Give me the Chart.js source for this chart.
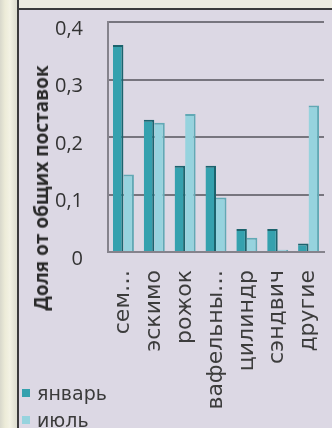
<!DOCTYPE html>
<html lang="ru">
<head>
  <meta charset="UTF-8">
  <title>Доля от общих поставок</title>
  <script src="https://cdn.jsdelivr.net/npm/chart.js"></script>
  <style>
    html, body { margin: 0; padding: 0; }
    body {
      width: 332px;
      height: 428px;
      overflow: hidden;
      position: relative;
      background: #dcd8e4;
      font-family: 'DejaVu Sans', sans-serif;
    }
    .top-strip { position: absolute; left: 0; top: 0; width: 332px; height: 8px; background: #ecebe1; }
    .top-line { position: absolute; left: 0; top: 8px; width: 332px; height: 2px; background: #3a3a3c; }
    .left-strip { position: absolute; left: 0; top: 0; width: 17px; height: 428px;
      background: linear-gradient(to right, #d8d8cc 0, #ecebd8 5px, #f3f2e4 10px, #dfdfd2 16px); }
    .left-line { position: absolute; left: 17px; top: 0; width: 2px; height: 428px; background: #3a3a3c; }
    #wrap { position: absolute; left: 19px; top: 10px; width: 313px; height: 418px; }
    #yTitle {
      position: absolute; left: 41px; top: 188px;
      transform: translate(-50%, -50%) rotate(-90deg);
      white-space: nowrap;
      font: bold 19px 'Open Sans', sans-serif;
      color: #2a2a2a;
    }
    #legend { position: absolute; left: 22px; top: 379px; }
    .item { display: flex; align-items: center; height: 27px; font-size: 19px; color: #3a3a3a; }
    .box { width: 8px; height: 8px; margin-right: 7px; }
  </style>
</head>
<body>
  <div class="top-strip"></div>
  <div class="top-line"></div>
  <div class="left-strip"></div>
  <div class="left-line"></div>
  <div id="wrap"><canvas id="chart"></canvas></div>
  <div id="yTitle">Доля от общих поставок</div>
  <div id="legend"></div>

  <script>
    const categories = ['сем…', 'эскимо', 'рожок', 'вафельны…', 'цилиндр', 'сэндвич', 'другие'];
    const seriesNames = ['январь', 'июль'];
    const january = [0.36, 0.23, 0.15, 0.15, 0.04, 0.04, 0.015];
    const july = [0.135, 0.225, 0.24, 0.095, 0.025, 0.004, 0.255];
    const yTicks = [0, 0.1, 0.2, 0.3, 0.4];
    const fills = ['#35a1ae', '#96d3de'];
    const edges = ['#1c636d', '#62a9b5'];

    // legend
    const legend = document.getElementById('legend');
    seriesNames.forEach((name, i) => {
      legend.innerHTML += '<div class="item"><span class="box" style="background:' + fills[i] + '"></span>' + name + '</div>';
    });

    // keep the plot box where the photo has it
    function noPad(scale) {
      scale.paddingTop = 0;
      scale.paddingBottom = 0;
      scale.paddingLeft = 0;
      scale.paddingRight = 0;
    }

    const ctx = document.getElementById('chart').getContext('2d');
    new Chart(ctx, {
      type: 'bar',
      data: {
        labels: categories,
        datasets: [january, july].map((vals, i) => ({
          label: seriesNames[i],
          data: vals,
          backgroundColor: fills[i],
          borderColor: edges[i],
          borderWidth: { top: 2, right: 2, left: 0, bottom: 0 },
          borderSkipped: false,
          categoryPercentage: 0.68,
          barPercentage: 1
        }))
      },
      options: {
        responsive: true,
        maintainAspectRatio: false,
        animation: false,
        layout: { padding: { top: 12, right: 8, left: 0, bottom: 0 } },
        plugins: { legend: { display: false }, tooltip: { enabled: false } },
        scales: {
          x: {
            afterFit(scale) { scale.height = 176; noPad(scale); },
            grid: { display: false },
            border: { color: '#85838c', width: 2 },
            ticks: {
              autoSkip: false,
              minRotation: 90,
              maxRotation: 90,
              padding: 10,
              color: '#3c3c3c',
              font: { family: 'DejaVu Sans', size: 22 }
            }
          },
          y: {
            min: 0,
            max: 0.4,
            afterFit(scale) { scale.width = 89; noPad(scale); },
            afterBuildTicks(scale) { scale.ticks = yTicks.map(v => ({ value: v })); },
            grid: { color: '#77757e', lineWidth: 2, drawTicks: false },
            border: { color: '#85838c', width: 2 },
            ticks: {
              padding: 25,
              labelOffset: 7,
              color: '#333',
              font: { family: 'Open Sans', size: 20 },
              callback: v => v === 0 ? '0' : v.toFixed(1).replace('.', ',')
            }
          }
        }
      }
    });
  </script>
</body>
</html>
